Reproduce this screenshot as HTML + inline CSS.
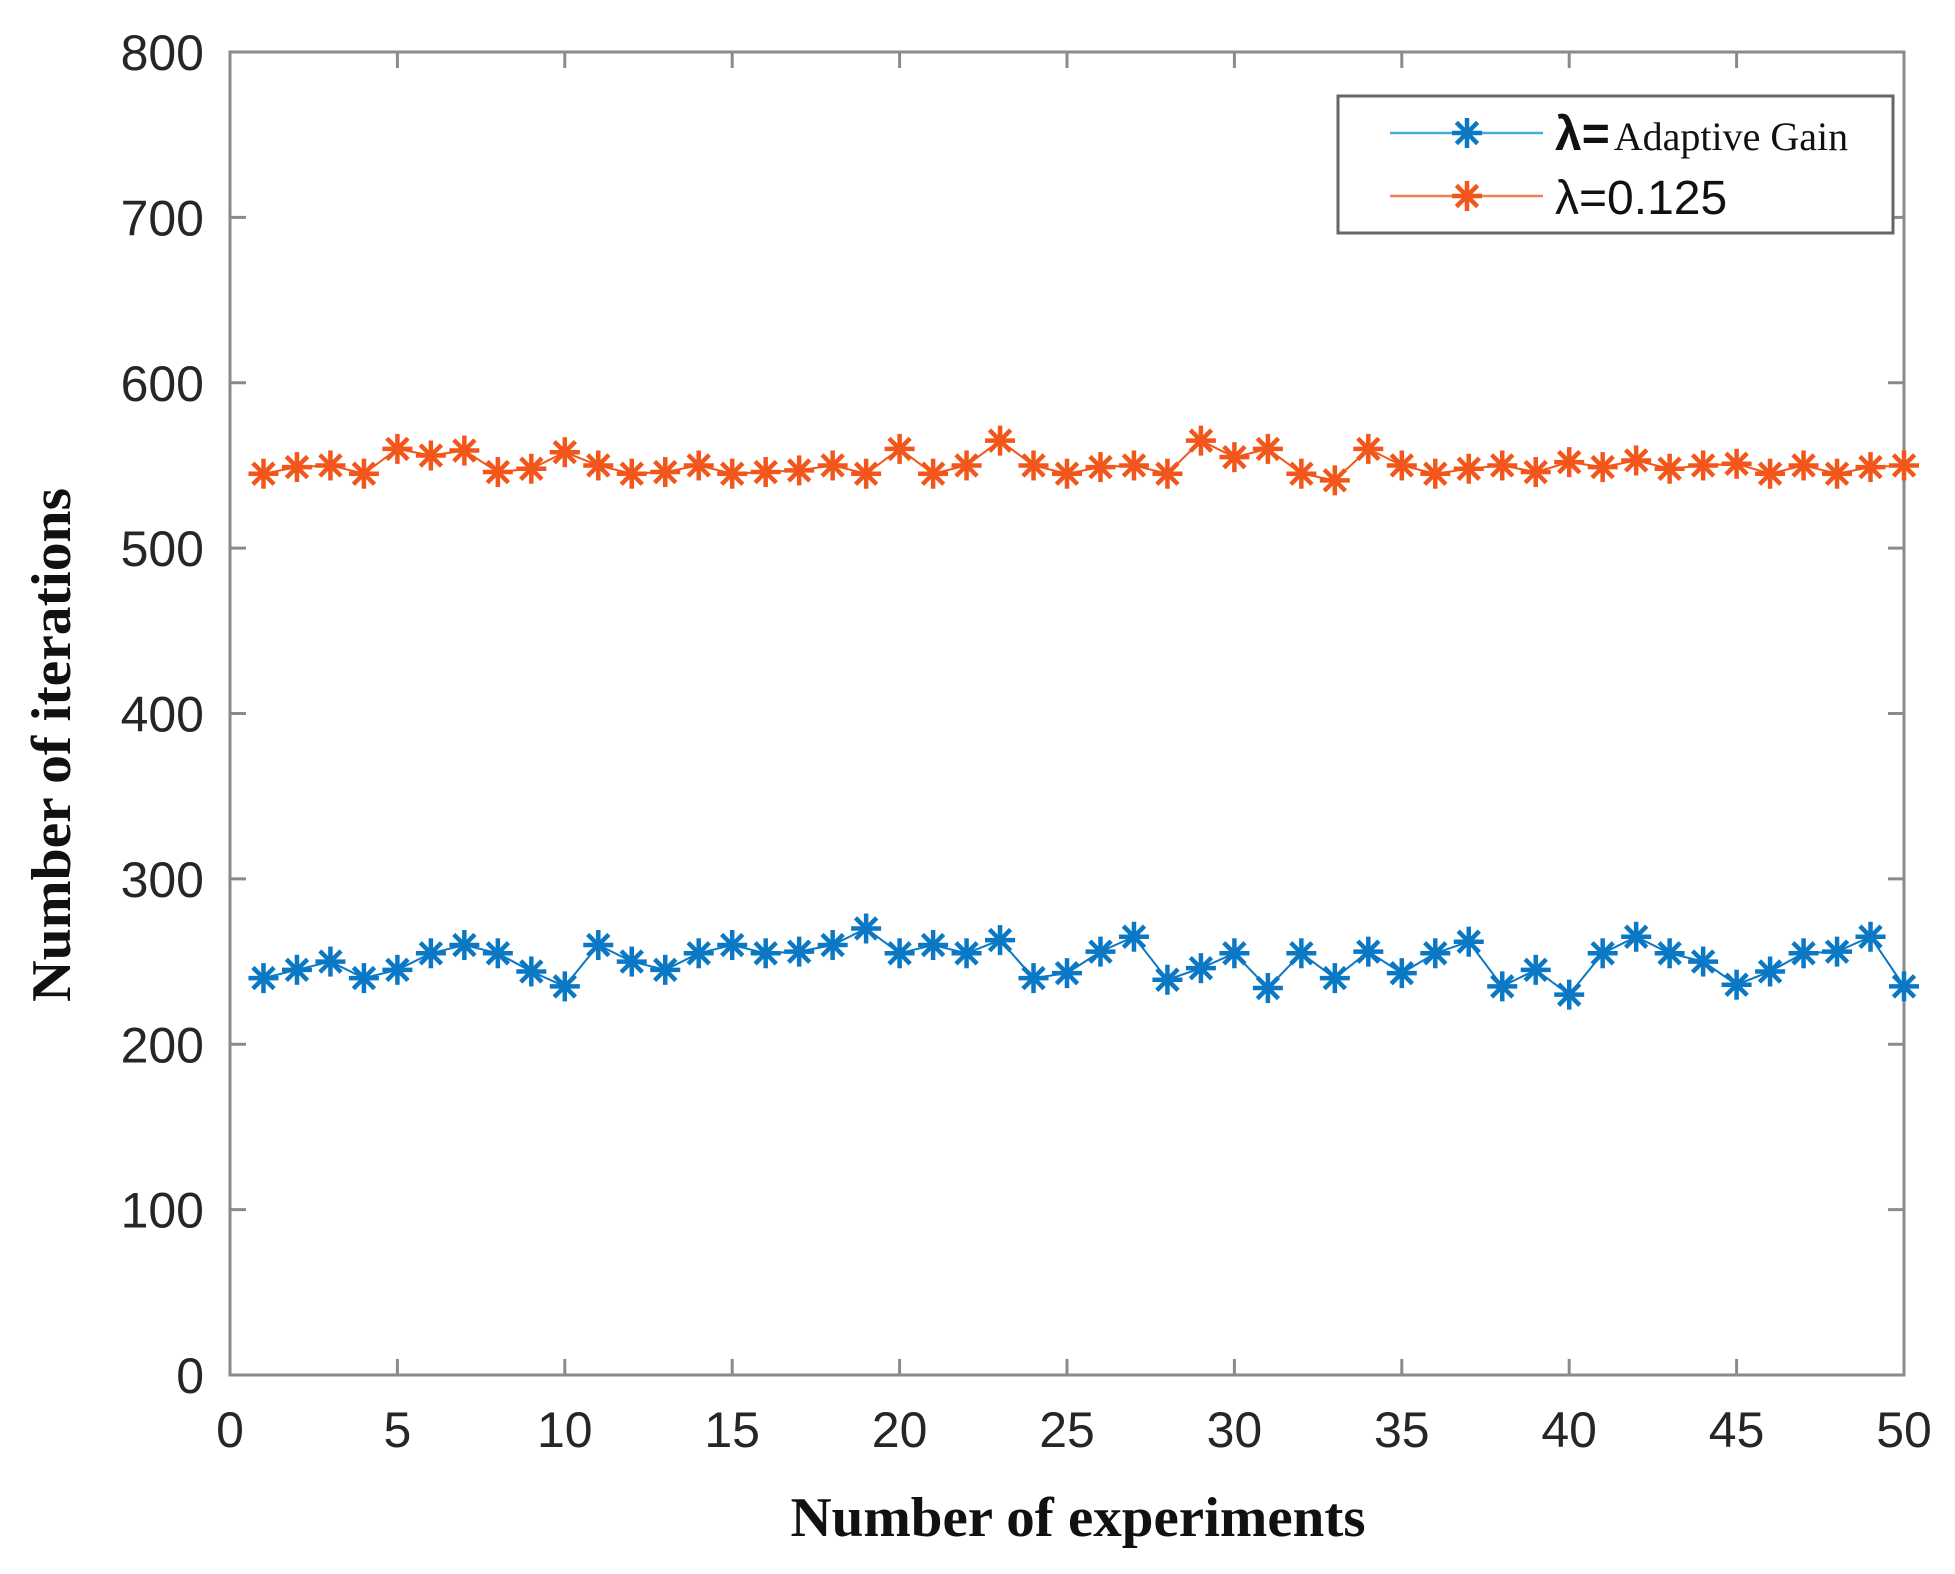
<!DOCTYPE html>
<html><head><meta charset="utf-8"><style>
html,body{margin:0;padding:0;background:#fff;}
svg{display:block;}
</style></head><body>
<svg id="chart" width="1955" height="1574" viewBox="0 0 1955 1574" xmlns="http://www.w3.org/2000/svg">
<rect x="0" y="0" width="1955" height="1574" fill="#fff"/>
<g id="grid"></g>
<g id="series"></g>
<g id="legend"></g>
<text x="1078" y="1536" text-anchor="middle" font-family="Liberation Serif, serif" font-weight="bold" font-size="56" textLength="575" lengthAdjust="spacingAndGlyphs" fill="#111">Number of experiments</text>
<text transform="translate(70,745) rotate(-90)" text-anchor="middle" font-family="Liberation Serif, serif" font-weight="bold" font-size="56" textLength="514" lengthAdjust="spacingAndGlyphs" fill="#111">Number of iterations</text>
</svg>
<script>
const xTicks = [0,5,10,15,20,25,30,35,40,45,50];
const yTicks = [0,100,200,300,400,500,600,700,800];
const experiments = [1,2,3,4,5,6,7,8,9,10,11,12,13,14,15,16,17,18,19,20,21,22,23,24,25,26,27,28,29,30,31,32,33,34,35,36,37,38,39,40,41,42,43,44,45,46,47,48,49,50];
const adaptiveGain = [240,245,250,240,245,255,260,255,244,235,260,250,245,255,260,255,256,260,270,255,260,255,263,240,243,256,265,239,246,255,234,255,240,256,243,255,262,235,245,230,255,265,255,250,236,244,255,256,265,235];
const lambda0125 = [545,549,550,545,560,556,559,546,548,558,550,545,546,550,545,546,547,550,545,560,545,550,565,550,545,549,550,545,565,555,560,545,541,560,550,545,548,550,546,552,549,553,548,550,551,545,550,545,549,550];

const NS = 'http://www.w3.org/2000/svg';
const L = 230, R = 1904, T = 52, B = 1375;
function xs(v){ return L + (v - 0) / 50 * (R - L); }
function ys(v){ return B - (v - 0) / 800 * (B - T); }
function mk(tag, attrs, parent){ const e = document.createElementNS(NS, tag); for (const k in attrs) e.setAttribute(k, attrs[k]); parent.appendChild(e); return e; }

const grid = document.getElementById('grid');
const axisColor = '#8a8a8a';
const box = mk('rect', {x:L, y:T, width:R-L, height:B-T, fill:'none', stroke:axisColor, 'stroke-width':3}, grid);


xTicks.forEach(t => {
  const x = xs(t);
  mk('line', {x1:x, y1:B, x2:x, y2:B-16, stroke:axisColor, 'stroke-width':3}, grid);
  mk('line', {x1:x, y1:T, x2:x, y2:T+16, stroke:axisColor, 'stroke-width':3}, grid);
  const lb = mk('text', {x:x, y:B+72, 'text-anchor':'middle', 'font-family':'Liberation Sans, sans-serif', 'font-size':50, fill:'#262626'}, grid);
  lb.textContent = t;
  
  
});
yTicks.forEach(t => {
  const y = ys(t);
  mk('line', {x1:L, y1:y, x2:L+16, y2:y, stroke:axisColor, 'stroke-width':3}, grid);
  mk('line', {x1:R, y1:y, x2:R-16, y2:y, stroke:axisColor, 'stroke-width':3}, grid);
  const lb = mk('text', {x:204, y:y+18, 'text-anchor':'end', 'font-family':'Liberation Sans, sans-serif', 'font-size':50, fill:'#262626'}, grid);
  lb.textContent = t;
  
  
});

function star(parent, cx, cy, r, color){
  const g = mk('g', {stroke:color, 'stroke-width':4.5, 'stroke-linecap':'butt'}, parent);
  for (let i = 0; i < 4; i++) {
    const a = i * Math.PI / 4;
    mk('line', {x1:cx - r*Math.sin(a), y1:cy - r*Math.cos(a), x2:cx + r*Math.sin(a), y2:cy + r*Math.cos(a)}, g);
  }
  return g;
}

const series = document.getElementById('series');
function drawSeries(vals, color, name){
  const g = mk('g', {}, series);
  
  
  const pts = vals.map((v,i) => xs(experiments[i]) + ',' + ys(v)).join(' ');
  const pl = mk('polyline', {points:pts, fill:'none', stroke:color, 'stroke-width':2}, g);
  
  
  vals.forEach((v,i) => {
    const m = star(g, xs(experiments[i]), ys(v), 15, color);
    
    
  });
}
drawSeries(adaptiveGain, '#0a78c4', 'adaptive-gain-series');
drawSeries(lambda0125, '#f2561b', 'lambda-0125-series');

const lg = document.getElementById('legend');
mk('rect', {x:1338, y:96, width:555, height:137, fill:'#fff', stroke:'#666', 'stroke-width':3}, lg);
mk('line', {x1:1390, y1:133, x2:1543, y2:133, stroke:'#4aa8e0', 'stroke-width':2.5}, lg);
star(lg, 1467, 133, 15, '#0a78c4');
mk('line', {x1:1390, y1:196, x2:1543, y2:196, stroke:'#f27a55', 'stroke-width':2.5}, lg);
star(lg, 1467, 196, 15, '#f2561b');
const t1 = mk('text', {x:1555, y:150, 'font-size':48, fill:'#111'}, lg);


t1.innerHTML = '<tspan font-family="Liberation Sans, sans-serif" font-weight="bold">λ=</tspan><tspan font-family="Liberation Serif, serif" font-size="40" dx="4">Adaptive Gain</tspan>';
const t2 = mk('text', {x:1555, y:214, 'font-size':48, fill:'#111', 'font-family':'Liberation Sans, sans-serif'}, lg);


t2.textContent = 'λ=0.125';
</script>
</body></html>
